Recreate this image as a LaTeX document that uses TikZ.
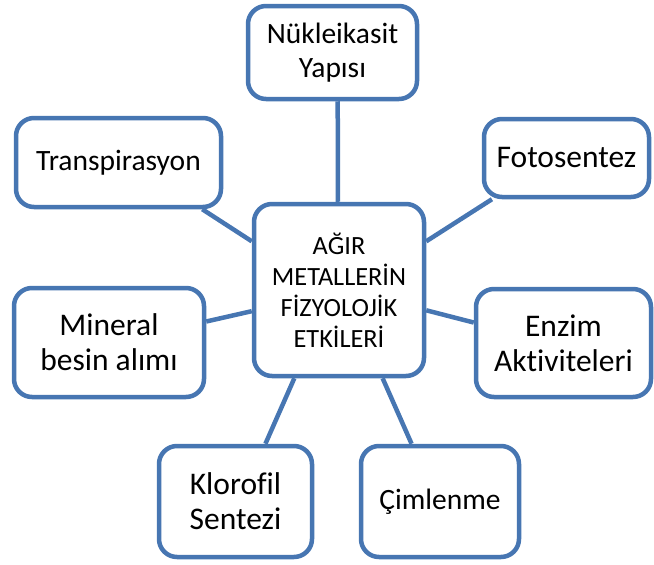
\documentclass[tikz,border=0pt]{standalone}
\usepackage{fontspec}
\setmainfont{Carlito}[Ligatures=NoCommon]
\usetikzlibrary{calc,backgrounds}
\definecolor{edgeblue}{RGB}{71,118,178}
\tikzset{
  box/.style={draw=edgeblue, line width=4.5pt, fill=white, rounded corners=18pt,
    inner sep=0pt, align=center, font=\fontsize{29.5}{34}\selectfont, text=black},
  bigtext/.style={font=\fontsize{31.5}{35}\selectfont},
  link/.style={draw=edgeblue, line width=4.5pt}
}
\begin{document}
\begin{tikzpicture}[x=1pt,y=-1pt]
\useasboundingbox (0,0) rectangle (654,565);
\node[box, minimum width=169pt, minimum height=93pt] (n) at (332.5,52.5) {Nükleikasit\\Yapısı};
\node[box, minimum width=205pt, minimum height=89pt] (t) at (118.5,162.5) {Transpirasyon};
\node[box, bigtext, minimum width=165pt, minimum height=78pt] (f) at (566.5,158) {Fotosentez};
\node[box, minimum width=170pt, minimum height=172pt, font=\fontsize{26.3}{31}\selectfont] (c) at (339,290) {AĞIR\\METALLERİN\\FİZYOLOJİK\\ETKİLERİ};
\node[box, bigtext, minimum width=190pt, minimum height=109pt] (m) at (109,342.5) {Mineral\\besin alımı};
\node[box, bigtext, minimum width=175pt, minimum height=108pt] (e) at (563.5,343) {Enzim\\Aktiviteleri};
\node[box, bigtext, minimum width=153pt, minimum height=111pt] (k) at (235.5,501.5) {Klorofil\\Sentezi};
\node[box, minimum width=158pt, minimum height=111pt] (z) at (440,501.5) {Çimlenme};
\begin{scope}[on background layer]
\draw[link] ($(n.south west)!0.53!(n.south east)$) -- ($(c.north west)!0.494!(c.north east)$);
\draw[link] ($(t.south west)!0.9!(t.south east)$) -- ($(c.north west)!0.224!(c.south west)$);
\draw[link] ($(f.south west)!0.06!(f.south east)$) -- ($(c.north east)!0.224!(c.south east)$);
\draw[link] ($(m.north east)!0.315!(m.south east)$) -- ($(c.north west)!0.62!(c.south west)$);
\draw[link] ($(e.north west)!0.318!(e.south west)$) -- ($(c.north east)!0.615!(c.south east)$);
\draw[link] ($(k.north west)!0.69!(k.north east)$) -- ($(c.south west)!0.244!(c.south east)$);
\draw[link] ($(z.north west)!0.325!(z.north east)$) -- ($(c.south west)!0.75!(c.south east)$);
\end{scope}
\end{tikzpicture}
\end{document}
